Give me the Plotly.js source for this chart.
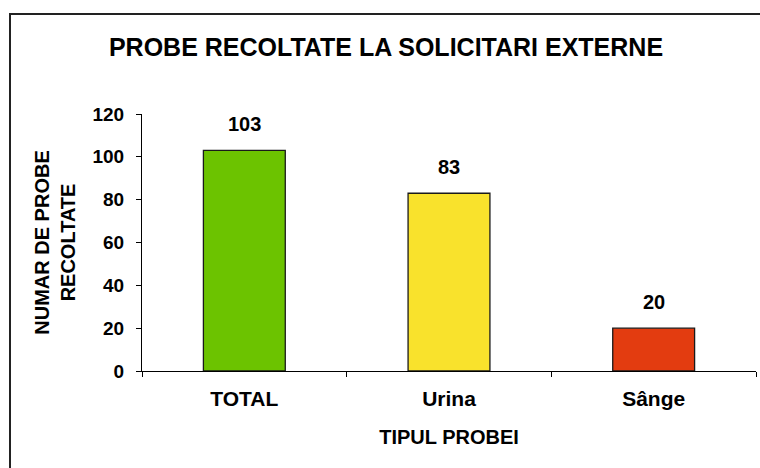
<!DOCTYPE html>
<html>
<head>
<meta charset="utf-8">
<script src="https://cdn.plot.ly/plotly-3.0.1.min.js"></script>
<style>
html,body{margin:0;padding:0;background:#fff;}
#chart{width:760px;height:468px;}
</style>
</head>
<body>
<div id="chart"></div>
<script>
var categories = ["TOTAL", "Urina", "Sânge"];
var values = [103, 83, 20];
var barColors = ["#6CC300", "#F9E22C", "#E33C10"];
var yTicks = [0, 20, 40, 60, 80, 100, 120];

var FONT = "Liberation Sans, Arial, sans-serif";

var trace = {
  type: "bar",
  x: categories,
  y: values,
  width: 0.40,
  marker: {color: barColors, line: {color: "#1a1a1a", width: 1.3}},
  hoverinfo: "none"
};

var annotations = categories.map(function(c, i) {
  return {
    x: c, y: values[i], xref: "x", yref: "y",
    text: String(values[i]), showarrow: false,
    yanchor: "bottom", yshift: 13,
    font: {family: FONT, size: 20, color: "#000", weight: "bold"}
  };
});

var layout = {
  width: 760, height: 468,
  margin: {l: 142, r: 4, t: 114, b: 97, pad: 0},
  paper_bgcolor: "#fff", plot_bgcolor: "#fff",
  showlegend: false,
  font: {family: FONT, color: "#000"},
  title: {
    text: "PROBE RECOLTATE LA SOLICITARI EXTERNE",
    xref: "container", x: 386/760, xanchor: "center",
    yref: "container", y: 1 - 47/468, yanchor: "middle",
    font: {family: FONT, size: 25, color: "#000", weight: "bold"}
  },
  xaxis: {
    type: "category",
    showline: true, linecolor: "#000", linewidth: 1,
    ticks: "outside", tickson: "boundaries", ticklen: 5, tickcolor: "#000", tickwidth: 1,
    ticklabelstandoff: 9,
    tickfont: {family: FONT, size: 21, color: "#000", weight: "bold"},
    showgrid: false, zeroline: false,
    title: {text: "TIPUL PROBEI", standoff: 20,
      font: {family: FONT, size: 20, color: "#000", weight: "bold"}}
  },
  yaxis: {
    range: [0, 120], tickvals: yTicks, ticktext: yTicks.map(String),
    showline: true, linecolor: "#000", linewidth: 1,
    ticks: "outside", ticklen: 5, tickcolor: "#000", tickwidth: 1,
    ticklabelstandoff: 8,
    tickfont: {family: FONT, size: 19, color: "#000", weight: "bold"},
    showgrid: false, zeroline: false,
    title: {text: "NUMAR DE PROBE<br>RECOLTATE", standoff: 11,
      font: {family: FONT, size: 20, color: "#000", weight: "bold"}}
  },
  annotations: annotations,
  shapes: [{
    type: "rect", xref: "paper", yref: "paper",
    x0: (10 - 142) / 614, x1: 1.2,
    y0: -0.6, y1: (371 - 14) / 257,
    line: {color: "#222", width: 2}, fillcolor: "rgba(0,0,0,0)", layer: "below"
  }]
};

Plotly.newPlot("chart", [trace], layout, {staticPlot: true, displayModeBar: false});
</script>
</body>
</html>
